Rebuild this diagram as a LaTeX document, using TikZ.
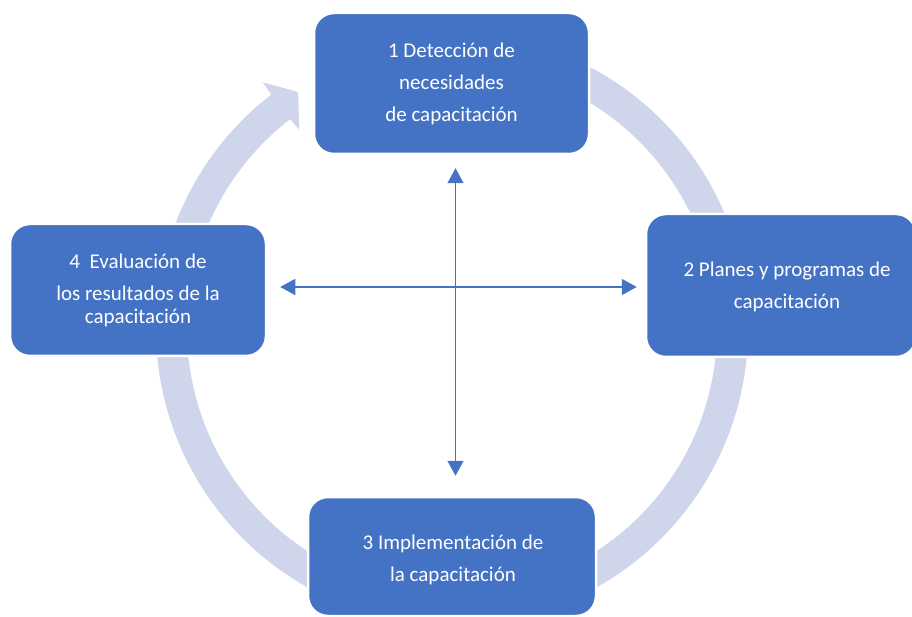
\documentclass[tikz,border=0pt]{standalone}
\usepackage{fontspec}
\setmainfont{Carlito}
\usetikzlibrary{arrows.meta,calc}
\definecolor{boxblue}{HTML}{4472C4}
\definecolor{ringcol}{HTML}{CFD5EA}
\begin{document}
\begin{tikzpicture}[x=1pt,y=1pt,
  stagebox/.style={rectangle, rounded corners=20pt, fill=boxblue, draw=white, line width=2.5pt,
    text=white, align=center, font=\fontsize{21}{32}\selectfont, inner sep=0pt},
  stagetext/.style={text=white, align=center, font=\fontsize{21}{32}\selectfont, inner sep=0pt},
  link/.style={draw=boxblue, line width=1.5pt, {Triangle[length=15pt,width=16pt]}-{Triangle[length=15pt,width=16pt]}}]
\useasboundingbox (0,0) rectangle (912,616);
% ring with arrowhead
\begin{scope}[shift={(452,287)}]
  \fill[ringcol] (95:296) arc[start angle=95, end angle=-232.4, radius=296]
    -- (127.5:311) -- (123:282.6) -- (127.5:251) -- (-232.4:265)
    arc[start angle=-232.4, end angle=95, radius=265] -- cycle;
\end{scope}
% boxes
\node[stagebox, minimum width=275pt, minimum height=141pt] (top) at (451.5,532.5)
  {1 Detección de\\necesidades\\de capacitación};
\node[stagebox, minimum width=270pt, minimum height=143pt] (right) at (781,330.5) {};
\node[stagetext] (righttext) at ($(right.center)+(6,-1.5)$) {2 Planes y programas de\\capacitación};
\node[stagebox, minimum width=256pt, minimum height=132pt] (left) at (138,326)
  {4\hspace{0.45em}Evaluación de\\los resultados de la\\[-9pt]capacitación};
\node[stagebox, minimum width=288pt, minimum height=119pt] (bot) at (452,59.5) {};
\node[stagetext] (bottext) at ($(bot.center)+(1,-3)$) {3 Implementación de\\la capacitación};
% cross arrows
\draw[link] ($(top.south)+(4,-13)$) -- ($(bot.north)+(3.5,20)$);
\draw[link] ($(left.east)+(13,3)$) -- ($(right.west)+(-8,-1.5)$);
\end{tikzpicture}
\end{document}
